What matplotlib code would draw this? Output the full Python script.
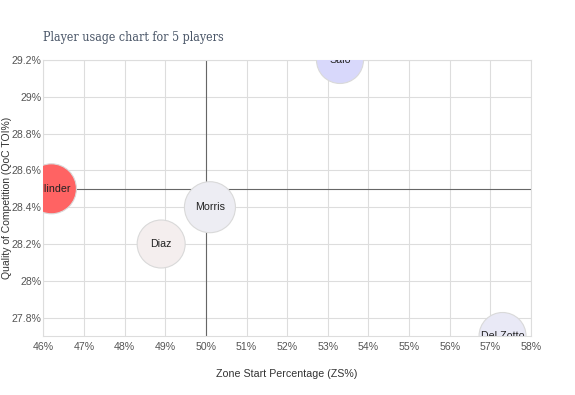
import matplotlib
matplotlib.use("Agg")
import matplotlib.pyplot as plt
from matplotlib.ticker import FuncFormatter

players = ["Tallinder", "Salo", "Morris", "Diaz", "Del Zotto"]
zone_start = [46.2, 53.3, 50.1, 48.9, 57.3]
qoc_toi = [28.5, 29.2, 28.4, 28.2, 27.7]
bubble_value = [25.0, 23.5, 25.5, 24.0, 23.5]
colors = ["#ff6363", "#d8d8fb", "#ededf3", "#f4eeee", "#e9e9f6"]

x_ticks = list(range(46, 59))
y_ticks = [27.8, 28.0, 28.2, 28.4, 28.6, 28.8, 29.0, 29.2]
x_center = 50.0
y_center = 28.5

fig = plt.figure(figsize=(5.75, 3.95), dpi=100)
ax = fig.add_axes([43.3 / 575, 1 - 336 / 395, (531 - 43.3) / 575, (336 - 60) / 395])

ax.set_xlim(46, 58)
ax.set_ylim(27.7, 29.2)
ax.set_xticks(x_ticks)
ax.set_yticks(y_ticks)

def pct(v, pos):
    s = ("%.1f" % v).rstrip("0").rstrip(".")
    return s + "%"

ax.xaxis.set_major_formatter(FuncFormatter(pct))
ax.yaxis.set_major_formatter(FuncFormatter(pct))

ax.grid(True, color="#dddddd", linewidth=0.8, zorder=0)
ax.set_axisbelow(True)
for side, sp in ax.spines.items():
    sp.set_color("#dddddd")
    sp.set_linewidth(0.8)

ax.tick_params(axis="both", length=0, labelsize=7.6, labelcolor="#555555")
ax.tick_params(axis="x", pad=4)
ax.tick_params(axis="y", pad=1.2)
for lab in ax.get_xticklabels() + ax.get_yticklabels():
    lab.set_fontfamily("Liberation Sans")

ax.axvline(x_center, color="#666666", linewidth=0.8, zorder=1)
ax.axhline(y_center, color="#666666", linewidth=0.8, zorder=1)

# bubble radius in px -> scatter size in points^2
sizes = [(2 * r * 0.72) ** 2 for r in bubble_value]
ax.scatter(zone_start, qoc_toi, s=sizes, c=colors, edgecolors="#d9d9d9",
           linewidths=0.8, zorder=3)

for name, x, y in zip(players, zone_start, qoc_toi):
    ax.text(x, y, name, ha="center", va="center", fontsize=7.7,
            family="Liberation Sans", color="#222222", zorder=4, clip_on=True)

ax.set_xlabel("Zone Start Percentage (ZS%)", fontsize=7.7, family="Liberation Sans",
              color="#333333")
ax.xaxis.set_label_coords((287 - 43.3) / 487.7, -(369 - 336) / 276)
ax.set_ylabel("Quality of Competition (QoC TOI%)", fontsize=7.5, family="Liberation Sans",
              color="#333333")
ax.yaxis.set_label_coords(-(43.3 - 12) / 487.7, (336 - 198) / 276)

fig.text(43 / 575, 1 - 37 / 395, "Player usage chart for 5 players", fontsize=8.9,
         family="DejaVu Serif", stretch="condensed", color="#4a5668",
         ha="left", va="center")

fig.savefig("out.png", dpi=100)
